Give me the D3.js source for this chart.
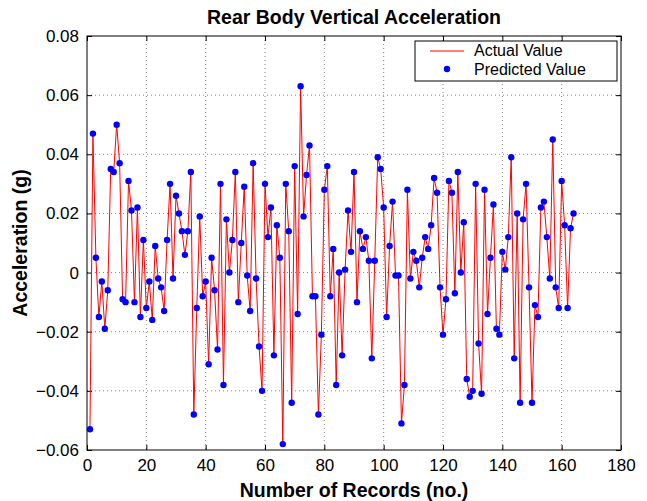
<!DOCTYPE html>
<html>
<head>
<meta charset="utf-8">
<script src="https://cdn.jsdelivr.net/npm/d3@7"></script>
<style>
  body { margin: 0; background: #fff; }
  svg { display: block; font-family: "Liberation Sans", Arial, Helvetica, sans-serif; }
  .tick text { fill: #000; }
</style>
</head>
<body>
<div id="chart"><svg width="647" height="501"></svg></div>
<script>
// records are plotted 1..N (matlab style), actual and predicted sit on top of each other
const accel = [
  -0.053, 0.047, 0.005, -0.015, -0.003, -0.019, -0.006, 0.035, 0.034, 0.050,
  0.037, -0.009, -0.010, 0.031, 0.021, -0.010, 0.022, -0.015, 0.011, -0.012,
  -0.003, -0.016, 0.009, -0.002, -0.005, -0.013, 0.011, 0.030, -0.002, 0.026,
  0.020, 0.014, 0.006, 0.014, 0.034, -0.048, -0.012, 0.019, -0.008, -0.003,
  -0.031, 0.005, -0.006, -0.026, 0.030, -0.038, 0.018, 0.000, 0.011, 0.034,
  -0.010, 0.010, 0.029, -0.001, -0.013, 0.037, -0.002, -0.025, -0.040, 0.030,
  0.012, 0.022, -0.028, 0.016, 0.005, -0.058, 0.030, 0.014, -0.044, 0.036,
  -0.014, 0.063, 0.019, 0.033, 0.043, -0.008, -0.008, -0.048, -0.021, 0.028,
  0.036, -0.008, 0.008, -0.038, 0.000, -0.028, 0.001, 0.021, 0.007, 0.034,
  -0.010, 0.014, 0.008, 0.012, 0.004, -0.029, 0.004, 0.039, 0.035, 0.022,
  -0.015, 0.009, 0.024, -0.001, -0.001, -0.051, -0.038, 0.028, -0.002, 0.007,
  0.004, -0.005, 0.005, 0.012, 0.008, 0.016, 0.032, 0.027, -0.005, -0.021,
  -0.009, 0.031, 0.027, -0.007, 0.034, 0.000, 0.017, -0.036, -0.042, -0.040,
  0.030, -0.024, -0.041, 0.028, -0.014, 0.005, 0.023, -0.019, -0.021, 0.007,
  0.001, 0.012, 0.039, -0.029, 0.020, -0.044, 0.018, 0.030, -0.005, -0.044,
  -0.011, -0.015, 0.022, 0.024, 0.012, -0.002, 0.045, -0.005, -0.012, 0.031,
  0.016, -0.012, 0.015, 0.020
];
const actualValues = accel;
const predictedValues = accel;

const xTicks = [0, 20, 40, 60, 80, 100, 120, 140, 160, 180];
const yTicks = [-0.06, -0.04, -0.02, 0, 0.02, 0.04, 0.06, 0.08];
const legendNames = ["Actual Value", "Predicted Value"];


/**********************
***** BASIC SETUP *****
**********************/

const width = 647;
const height = 501;
const margin = {top: 36, left: 87, right: 26, bottom: 51};

const plotWidth = width - margin.left - margin.right;
const plotHeight = height - margin.top - margin.bottom;

const svg = d3.select("#chart").select("svg");

const lineData = actualValues.map((v, i) => ({x: i + 1, y: v}));
const dotData = predictedValues.map((v, i) => ({x: i + 1, y: v}));


/***********************
***** X & Y SCALES *****
***********************/

const xScale = d3.scaleLinear()
    .domain([0, 180])
    .range([0, plotWidth]);

const yScale = d3.scaleLinear()
    .domain([-0.06, 0.08])
    .range([plotHeight, 0]);

const plot = svg.append("g")
    .attr("transform", `translate(${margin.left}, ${margin.top})`);


/*******************
***** GRIDLINES *****
*******************/

plot.append("g")
    .selectAll("line")
    .data(xTicks.slice(1, -1))
    .join("line")
    .attr("x1", d => xScale(d)).attr("x2", d => xScale(d))
    .attr("y1", 0).attr("y2", plotHeight)
    .attr("stroke", "#666")
    .attr("stroke-width", 0.8)
    .attr("stroke-dasharray", "1,3");

plot.append("g")
    .selectAll("line")
    .data(yTicks.slice(1, -1))
    .join("line")
    .attr("x1", 0).attr("x2", plotWidth)
    .attr("y1", d => yScale(d)).attr("y2", d => yScale(d))
    .attr("stroke", "#666")
    .attr("stroke-width", 0.8)
    .attr("stroke-dasharray", "1,3");


/***************
***** AXES *****
***************/

const fmtY = d => d === 0 ? "0" : d3.format(".2f")(d).replace("-", "\u2212");

plot.append("g")
    .attr("transform", `translate(0, ${plotHeight})`)
    .call(d3.axisBottom(xScale).tickValues(xTicks).tickSize(-5).tickPadding(9))
    .call(g => g.select(".domain").remove())
    .selectAll("text")
    .style("font-size", "17px");

plot.append("g")
    .call(d3.axisTop(xScale).tickValues(xTicks).tickSize(-5).tickFormat(""))
    .call(g => g.select(".domain").remove());

plot.append("g")
    .call(d3.axisLeft(yScale).tickValues(yTicks).tickSize(-5).tickPadding(8).tickFormat(fmtY))
    .call(g => g.select(".domain").remove())
    .selectAll("text")
    .style("font-size", "17px");

plot.append("g")
    .attr("transform", `translate(${plotWidth}, 0)`)
    .call(d3.axisRight(yScale).tickValues(yTicks).tickSize(-5).tickFormat(""))
    .call(g => g.select(".domain").remove());

plot.append("rect")
    .attr("width", plotWidth)
    .attr("height", plotHeight)
    .attr("fill", "none")
    .attr("stroke", "#000")
    .attr("stroke-width", 1);


/*************************
***** LINE & DOTS *****
**************************/

const line = d3.line()
    .x(d => xScale(d.x))
    .y(d => yScale(d.y));

plot.append("path")
    .datum(lineData)
    .attr("d", line)
    .attr("fill", "none")
    .attr("stroke", "#ff0000")
    .attr("stroke-width", 1);

plot.append("g")
    .selectAll("circle")
    .data(dotData)
    .join("circle")
    .attr("cx", d => xScale(d.x))
    .attr("cy", d => yScale(d.y))
    .attr("r", 3.2)
    .attr("fill", "#0000ff");


/*******************************
***** TITLE & AXIS LABELS *****
*******************************/

svg.append("text")
    .attr("x", margin.left + plotWidth / 2)
    .attr("y", 24)
    .attr("text-anchor", "middle")
    .style("font-size", "19.5px")
    .style("font-weight", "bold")
    .text("Rear Body Vertical Acceleration");

svg.append("text")
    .attr("x", margin.left + plotWidth / 2)
    .attr("y", 497)
    .attr("text-anchor", "middle")
    .style("font-size", "19.5px")
    .style("font-weight", "bold")
    .text("Number of Records (no.)");

svg.append("text")
    .attr("transform", `translate(27, ${margin.top + plotHeight / 2}) rotate(-90)`)
    .attr("text-anchor", "middle")
    .style("font-size", "19.5px")
    .style("font-weight", "bold")
    .text("Acceleration (g)");


/*****************
***** LEGEND *****
*****************/

const legend = svg.append("g")
    .attr("transform", `translate(415, 41)`);

legend.append("rect")
    .attr("width", 202)
    .attr("height", 40)
    .attr("fill", "#fff")
    .attr("stroke", "#000")
    .attr("stroke-width", 1);

legend.append("line")
    .attr("x1", 15).attr("x2", 49)
    .attr("y1", 10).attr("y2", 10)
    .attr("stroke", "#ff0000")
    .attr("stroke-width", 1);

legend.append("circle")
    .attr("cx", 32).attr("cy", 28)
    .attr("r", 3.2)
    .attr("fill", "#0000ff");

legend.selectAll(".legendText")
    .data(legendNames)
    .join("text")
    .attr("class", "legendText")
    .attr("x", 59)
    .attr("y", (d, i) => 15 + i * 18.5)
    .style("font-size", "16px")
    .text(d => d);
</script>
</body>
</html>
